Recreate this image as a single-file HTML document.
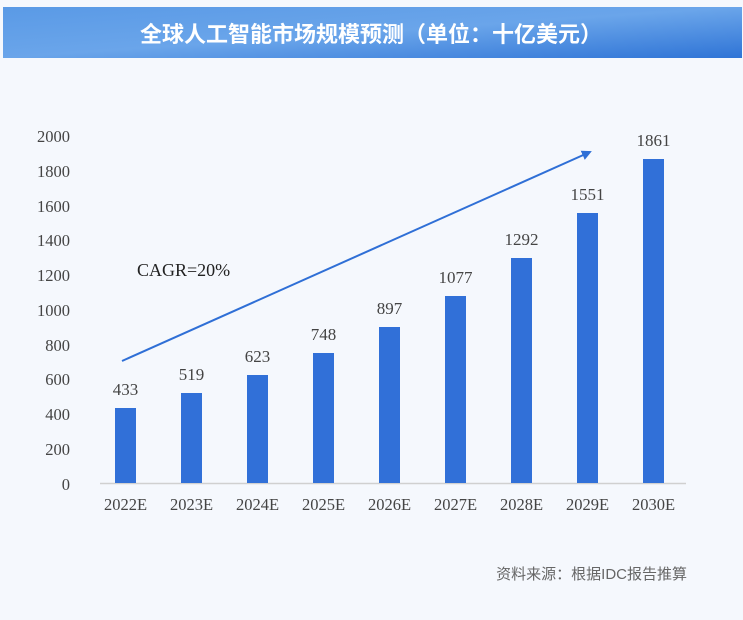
<!DOCTYPE html><html><head><meta charset="utf-8"><style>
body{margin:0;width:743px;height:615px;background:#f5f8fd;overflow:hidden;font-family:"Liberation Serif","Noto Serif CJK SC",serif}
</style></head><body>
<svg width="743" height="615" xmlns="http://www.w3.org/2000/svg">
<defs><linearGradient id="g" x1="0" y1="0" x2="1" y2="1"><stop offset="0" stop-color="#5a9ae6"/><stop offset="0.5" stop-color="#6aa5ea"/><stop offset="1" stop-color="#2f74d6"/></linearGradient>
<marker id="ah" markerWidth="10" markerHeight="10" refX="8" refY="5" orient="auto" markerUnits="userSpaceOnUse"><path d="M0,0 L10,5 L0,10 z" fill="#2f6fd6"/></marker></defs>
<rect x="0" y="0" width="743" height="615" fill="#f5f8fd"/>
<rect x="3" y="7" width="739" height="51" fill="url(#g)"/>
<text x="371" y="42" text-anchor="middle" font-family="Liberation Sans,Noto Sans CJK SC,sans-serif" font-weight="bold" font-size="22" fill="#fff">全球人工智能市场规模预测（单位：十亿美元）</text>
<g font-size="16.5" fill="#444" text-anchor="end">
<text x="70" y="490">0</text><text x="70" y="455">200</text><text x="70" y="420">400</text><text x="70" y="385">600</text><text x="70" y="351">800</text><text x="70" y="316">1000</text><text x="70" y="281">1200</text><text x="70" y="246">1400</text><text x="70" y="212">1600</text><text x="70" y="177">1800</text><text x="70" y="142">2000</text>
</g>
<line x1="100" y1="483.5" x2="686" y2="483.5" stroke="#d0d0d0" stroke-width="1.5"/>
<g fill="#3170d8">
<rect x="115" y="408" width="21" height="75"/><rect x="181" y="393" width="21" height="90"/><rect x="247" y="375" width="21" height="108"/><rect x="313" y="353" width="21" height="130"/><rect x="379" y="327" width="21" height="156"/><rect x="445" y="296" width="21" height="187"/><rect x="511" y="258" width="21" height="225"/><rect x="577" y="213" width="21" height="270"/><rect x="643" y="159" width="21" height="324"/>
</g>
<g font-size="17" fill="#444" text-anchor="middle">
<text x="125.5" y="395">433</text><text x="191.5" y="380">519</text><text x="257.5" y="362">623</text><text x="323.5" y="340">748</text><text x="389.5" y="314">897</text><text x="455.5" y="283">1077</text><text x="521.5" y="245">1292</text><text x="587.5" y="200">1551</text><text x="653.5" y="146">1861</text>
</g>
<g font-size="16.5" fill="#444" text-anchor="middle">
<text x="125.5" y="510">2022E</text><text x="191.5" y="510">2023E</text><text x="257.5" y="510">2024E</text><text x="323.5" y="510">2025E</text><text x="389.5" y="510">2026E</text><text x="455.5" y="510">2027E</text><text x="521.5" y="510">2028E</text><text x="587.5" y="510">2029E</text><text x="653.5" y="510">2030E</text>
</g>
<text x="137" y="276" font-size="18" fill="#222">CAGR=20%</text>
<line x1="122" y1="361" x2="590" y2="152" stroke="#2f6fd6" stroke-width="2" marker-end="url(#ah)"/>
<text x="687" y="579" text-anchor="end" font-family="Liberation Sans,Noto Sans CJK SC,sans-serif" font-size="15" fill="#666">资料来源：根据IDC报告推算</text>
</svg>
</body></html>
